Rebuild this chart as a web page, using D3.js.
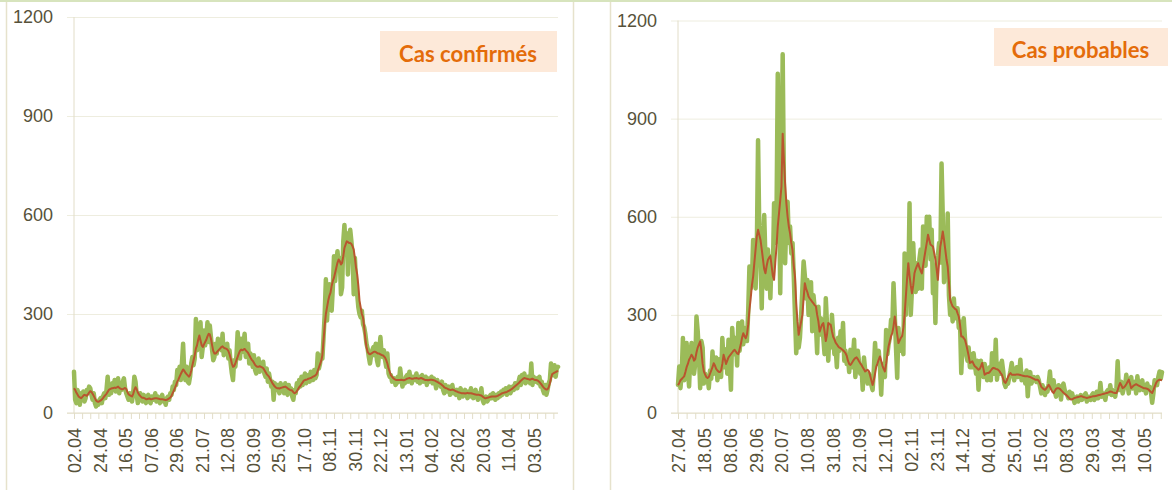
<!DOCTYPE html>
<html><head><meta charset="utf-8">
<script src="https://cdn.jsdelivr.net/npm/d3@7"></script>
<style>body{margin:0;background:#fff}svg{display:block}</style>
</head><body><svg id="c" width="1172" height="490"></svg>
<script>
// ---------- DATA ----------
const confirmedDaily = [
125,40,30,70,55,25,60, 50,65,35,45,70,60,80, 75,55,40,60,30,20,35, 25,40,45,30,50,60,45,
70,110,55,80,60,90,75, 100,65,80,105,60,85,70, 95,105,75,60,50,40,60, 45,35,60,110,95,55,30,
50,60,40,35,55,45,30, 45,55,35,30,50,40,45, 60,35,50,40,30,45,55, 35,40,25,45,50,40,60,
55,80,70,95,85,130,110, 140,100,150,210,120,100,140, 95,90,110,150,170,145,165, 285,190,260,210,275,170,200,
250,205,230,275,215,265,230, 190,160,170,210,180,225,195, 215,190,240,175,200,185,210, 165,190,150,120,100,160,140,
175,245,195,165,225,185,210, 240,170,190,210,150,180,160, 140,175,130,120,150,165,125, 145,130,155,120,110,135,95,
120,100,80,95,40,90,75, 85,70,60,90,75,80,60, 90,70,55,85,65,75,50, 40,70,60,90,75,100,80,
110,85,100,120,90,105,115, 95,125,110,100,130,105,115, 180,135,150,175,165,230,300, 405,280,350,390,360,310,380,
475,400,455,490,450,470,360, 380,520,570,500,545,420,530, 555,520,480,360,470,400,360, 320,300,290,310,270,260,240,
210,195,170,150,175,190,200, 175,210,160,145,190,230,180, 170,190,160,140,180,120,110, 115,95,100,105,85,90,110,
95,135,105,80,100,90,110, 115,95,125,100,90,110,105, 100,120,95,110,90,105,115, 95,100,110,85,105,95,100,
110,90,105,95,75,100,85, 90,80,95,70,60,85,75, 65,80,55,75,85,60,70, 55,70,60,45,75,65,50,
55,70,60,45,65,50,75, 60,45,55,70,50,40,60, 55,75,40,30,45,50,35, 40,50,55,45,60,50,40,
55,45,60,50,65,55,70, 60,75,55,65,80,60,70, 80,70,90,85,75,95,110, 85,115,100,120,90,95,110,
100,90,150,85,110,100,95, 105,90,110,80,95,70,60, 85,55,70,90,100,150,120, 115,145,110,135,140
];
const confirmedAvg = [
75,70,62,56,50,47,45, 48,52,55,54,52,56,62, 66,64,58,52,45,38,35, 34,36,38,41,45,50,54,
58,64,70,72,74,75,76, 77,76,78,80,76,74,72, 72,74,76,73,64,57,54, 52,50,58,70,78,72,62,
56,52,48,46,46,44,42, 42,43,44,42,42,43,44, 45,45,44,43,42,42,42, 41,40,39,40,42,44,47,
52,60,68,76,85,95,102, 110,118,125,132,128,122,118, 114,110,115,128,145,160,175, 195,205,222,235,220,205,200,
208,215,222,232,240,238,225, 205,188,180,180,184,188,192, 196,200,202,198,196,195,193, 188,178,165,150,140,142,150,
160,170,180,188,192,190,192, 194,190,186,182,175,168,162, 158,152,146,142,140,140,142, 140,138,136,130,124,118,114,
110,104,97,90,85,80,77, 75,75,74,76,77,78,79, 80,78,75,72,70,69,68, 63,60,62,66,72,78,82,
88,93,98,100,101,102,104, 105,106,108,110,112,114,118, 128,138,148,158,175,220,265, 300,320,340,355,365,385,400,
410,425,440,455,465,460,450, 455,475,500,510,520,518,515, 515,512,505,495,470,440,420, 385,340,320,300,290,260,225,
200,185,180,178,180,182,185, 186,185,182,180,180,178,176, 175,172,168,160,150,135,125, 115,110,106,103,101,100,100,
100,100,101,100,99,100,102, 104,105,106,105,104,104,105, 105,106,105,104,105,106,105, 103,101,100,100,99,100,101,
101,100,99,98,96,94,92, 90,88,85,82,78,76,75, 73,71,70,70,71,70,68, 66,65,63,62,61,60,60,
60,59,60,61,60,60,60, 59,58,57,56,55,55,55, 54,53,50,47,45,45,46, 47,48,49,50,50,50,50,
51,52,54,56,58,60,61, 62,63,64,66,68,70,72, 75,78,81,84,87,90,94, 98,101,104,106,105,104,103,
102,101,103,104,102,100,100, 99,97,94,90,85,80,76, 73,71,72,78,90,105,118, 120,122,124,126,128
];
const probableDaily = [
86,142,76,120,229,100,150, 214,130,81,180,214,160,120, 150,295,250,180,76,220,200, 90,120,100,110,76,130,105,
188,120,140,170,100,130,165, 110,229,160,140,195,120,224, 150,71,260,200,180,230,145, 275,190,230,280,210,260,240,
220,310,448,380,400,529,450, 381,500,834,560,480,320,530, 605,470,380,500,450,351,480, 420,641,520,600,1037,700,366,
650,1097,700,458,600,646,520, 570,488,520,420,300,183,250, 200,230,300,380,463,420,350, 407,300,330,400,250,360,320,
270,183,325,240,290,260,230, 180,351,270,160,250,200,300, 240,180,200,140,230,190,250, 200,275,160,190,150,170,125,
193,140,170,224,110,150,190, 155,120,140,71,170,130,110, 90,120,100,86,70,130,214, 150,175,190,140,56,150,120,
110,254,180,210,230,285,260, 397,300,200,107,260,190,230, 210,180,488,300,420,380,641, 300,380,519,410,370,458,380,
470,500,380,570,490,450,600, 520,600,470,560,366,430,275, 450,480,520,460,763,600,400, 480,420,610,360,300,340,280,
350,290,300,320,260,280,122, 210,290,230,180,160,200,140, 180,140,183,150,120,160,71, 140,160,120,110,150,130,100,
120,140,100,183,150,120,224, 102,140,150,120,160,130,90, 80,100,90,110,130,153,120, 100,125,140,110,120,163,100,
110,120,90,130,51,110,125, 90,105,110,102,95,110,100, 80,60,85,70,55,75,65, 90,127,80,75,100,65,50,
70,85,76,41,80,90,70, 60,55,45,65,50,60,45, 31,40,50,35,45,55,40, 45,55,60,35,50,45,40,
55,60,40,50,65,45,50, 92,50,60,55,40,65,70, 60,85,55,70,60,50,75, 158,70,85,95,60,75,80,
117,90,60,100,110,75,85, 95,60,112,80,70,90,100, 70,85,60,90,75,80,65, 31,60,100,97,85,110,127,
105,125
];
const probableAvg = [
85,92,100,104,108,112,125, 140,150,163,170,178,172,160, 165,185,200,210,219,190,150, 127,118,110,107,110,120,130,
140,152,145,135,130,126,125, 130,150,178,165,150,160,170, 175,180,185,190,193,188,182, 180,195,210,230,244,235,229,
240,270,315,350,390,417,460, 500,540,560,545,529,500,470, 440,427,450,468,475,480,450, 420,407,460,509,570,610,650,
692,854,773,700,641,600,570, 549,520,498,450,417,336,280, 239,260,280,300,350,397,380, 370,356,350,345,340,335,330,
326,300,280,249,260,270,275, 250,220,240,275,272,270,250, 233,225,215,210,204,200,198, 195,192,188,183,175,160,150,
147,152,158,164,168,170,165, 158,152,147,140,134,127,130, 132,128,115,100,86,100,120, 142,152,163,173,160,145,135,
127,150,180,204,220,235,244, 265,295,270,240,214,222,230, 235,260,300,356,410,458,420, 390,366,390,427,440,450,458,
445,435,427,450,475,498,520, 545,530,515,512,509,490,470, 440,407,460,509,530,555,530, 500,470,448,400,346,335,326,
322,318,316,305,295,270,234, 234,229,224,210,193,175,153, 155,158,150,143,140,136,132, 135,143,153,135,117,120,122,
122,125,130,135,138,137,135, 134,132,128,122,117,105,95, 92,100,110,118,122,117,117, 117,117,118,118,117,116,115,
114,113,112,112,112,111,110, 108,106,104,102,102,102,98, 90,80,76,73,71,75,80, 86,80,72,65,61,68,74,
76,76,74,70,66,62,59, 56,52,48,44,41,42,44, 46,47,48,49,50,51,51, 49,48,47,46,47,48,49,
50,51,51,52,53,54,55, 56,57,58,59,60,61,62, 64,66,65,63,62,61,61, 70,82,92,85,76,78,82,
88,95,102,90,76,80,84, 86,88,86,84,82,80,78, 76,76,75,74,72,68,64, 61,70,80,90,97,100,102,
101,100
];
const confirmedLabels = ["02.04","24.04","16.05","07.06","29.06","21.07","12.08","03.09","25.09","17.10",
  "08.11","30.11","22.12","13.01","04.02","26.02","20.03","11.04","03.05"];
const probableLabels = ["27.04","18.05","08.06","29.06","20.07","10.08","31.08","21.09","12.10","02.11",
  "23.11","14.12","04.01","25.01","15.02","08.03","29.03","19.04","10.05"];
const yTicks = [0, 300, 600, 900, 1200];
const titles = ["Cas confirmés", "Cas probables"];

// ---------- DRAWING ----------
const svg = d3.select("#c");
const GREEN = "#9bbb59", RED = "#b9552f", TXT = "#57523a", GRID = "#eeeddf", AXIS = "#e2ddc8";

// frames
svg.append("rect").attr("x", 0).attr("y", 0).attr("width", 1172).attr("height", 2).attr("fill", "#d7e4bd");
[6.5, 573.5, 610.5].forEach(x => svg.append("line").attr("x1", x).attr("x2", x).attr("y1", 2).attr("y2", 490)
  .attr("stroke", "#e6e2cc").attr("stroke-width", 1.5));

function panel(cfg) {
  const n = cfg.daily.length;
  const x = d3.scaleLinear().domain([0, n - 1]).range([cfg.x0, cfg.x1]);
  const y = d3.scaleLinear().domain([0, 1200]).range([413, cfg.yTop]);
  const g = svg.append("g");

  // y axis with gridlines
  const ya = g.append("g").attr("transform", `translate(${cfg.x0 - 7},0)`)
    .call(d3.axisLeft(y).tickValues(yTicks).tickSize(-(cfg.x1 - cfg.x0 + 7)).tickPadding(14).tickFormat(d3.format("d")));
  ya.select(".domain").remove();
  ya.selectAll(".tick line").attr("stroke", GRID);
  ya.selectAll(".tick text").attr("fill", TXT).style("font", "18px 'Liberation Sans', Arial, sans-serif");

  g.append("line").attr("x1", cfg.x0).attr("x2", cfg.x0).attr("y1", y(1200)).attr("y2", y(0)).attr("stroke", AXIS);

  // x axis: weekly tick marks
  const weekly = d3.range(0, n, 7);
  const xa = g.append("g").attr("transform", `translate(0,${y(0)})`)
    .call(d3.axisBottom(x).tickValues(weekly).tickSize(6).tickFormat(""));
  xa.select(".domain").remove();
  xa.selectAll(".tick line").attr("stroke", AXIS);
  g.append("line").attr("x1", cfg.x0 - 7).attr("x2", cfg.x1).attr("y1", y(0)).attr("y2", y(0)).attr("stroke", AXIS);

  // x labels
  const labIdx = cfg.labels.map((l, i) => i * cfg.step);
  const xl = g.append("g").attr("transform", `translate(0,${y(0)})`)
    .call(d3.axisBottom(x).tickValues(labIdx).tickSize(0).tickFormat((d, i) => cfg.labels[i]));
  xl.select(".domain").remove();
  xl.selectAll(".tick text").attr("fill", TXT)
    .style("font", "18px 'Liberation Sans', Arial, sans-serif")
    .attr("transform", "rotate(-90)").attr("x", -15).attr("y", 0).attr("dy", "0.36em")
    .attr("text-anchor", "end");

  // lines
  const line = d3.line().x((d, i) => x(i)).y(d => y(d));
  g.append("path").datum(cfg.daily).attr("d", line).attr("fill", "none").attr("stroke", GREEN)
    .attr("stroke-width", 4.5).attr("stroke-linejoin", "round").attr("stroke-linecap", "round");
  g.append("path").datum(cfg.avg).attr("d", line).attr("fill", "none").attr("stroke", RED)
    .attr("stroke-width", 2).attr("stroke-linejoin", "round");

  // title box
  g.append("rect").attr("x", cfg.bx).attr("y", cfg.by).attr("width", cfg.bw).attr("height", cfg.bh).attr("fill", "#fde9d9");
  const t = g.append("text").attr("x", cfg.tx).attr("y", cfg.ty).attr("text-anchor", "middle")
    .attr("fill", "#e46c0a").style("font-family", "Lato, 'Open Sans', sans-serif").style("font-weight", "bold")
    .style("font-size", "20px").text(cfg.title);
  const w = t.node().getComputedTextLength();
  t.style("font-size", (20 * cfg.tw / w).toFixed(2) + "px");
}

panel({daily: confirmedDaily, avg: confirmedAvg, labels: confirmedLabels, step: 22, title: titles[0],
  x0: 74, x1: 558, yTop: 17, bx: 380, by: 31, bw: 177, bh: 41, tx: 468, ty: 61.5, tw: 138});
panel({daily: probableDaily, avg: probableAvg, labels: probableLabels, step: 21, title: titles[1],
  x0: 678, x1: 1162, yTop: 20.5, bx: 994, by: 28, bw: 174, bh: 38, tx: 1080.5, ty: 58, tw: 137.5});
</script></body></html>
